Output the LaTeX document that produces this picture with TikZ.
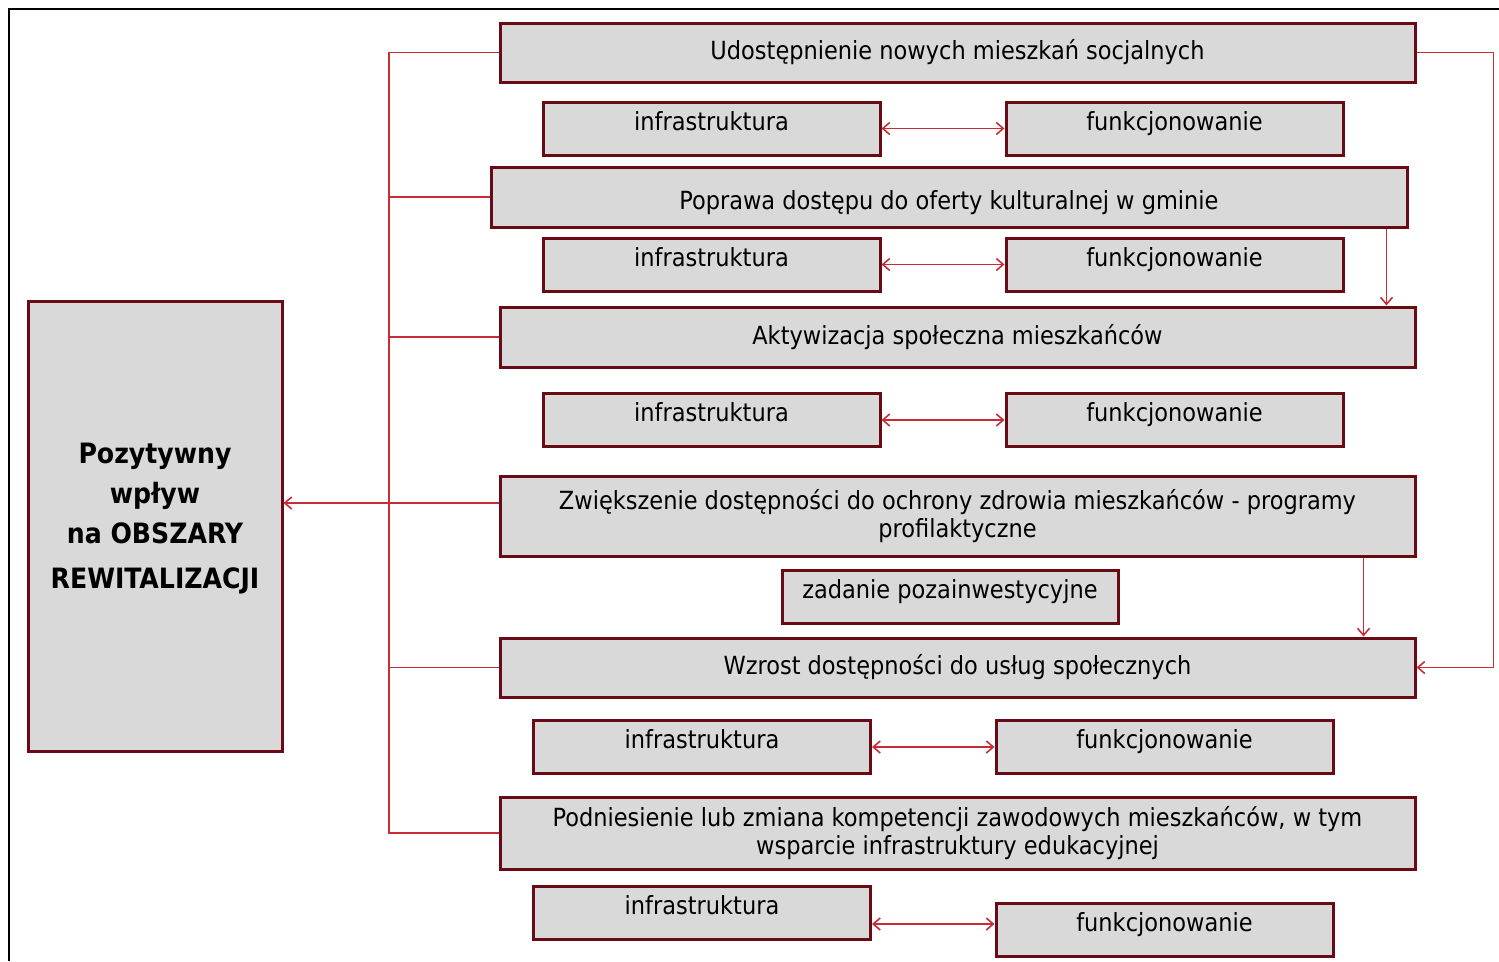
\documentclass[tikz,border=0pt]{standalone}
\usepackage{fontspec}
\setmainfont{DejaVu Sans Condensed}
\usetikzlibrary{arrows.meta}
\definecolor{szary}{RGB}{217,217,217}
\definecolor{bordo}{RGB}{105,10,20}
\definecolor{czerwien}{RGB}{200,45,55}
\begin{document}
\begin{tikzpicture}[
	x=1pt,y=-1pt,
	>={Straight Barb[length=7pt,width=12pt]}
]
\tikzset{
    celbox/.style = {rectangle, draw=bordo, line width=3pt, fill=szary, inner sep=0pt, align=center, font=\fontsize{25}{28}\selectfont},
    malybox/.style = {celbox, minimum width=337pt, minimum height=53pt, text height=28pt, text depth=25pt},
    linia/.style = {draw=czerwien, line width=1.6pt},
}
\useasboundingbox (0,0) rectangle (1499,961);
\draw[line width=2pt] (9,961) -- (9,9) -- (1499,9);

\node (wplyw) [celbox, minimum width=254pt, minimum height=450pt] at (155,526) {};
\node (wplyw napis) [align=center, font=\bfseries\fontsize{28}{40}\selectfont] at ([yshift=7pt]wplyw) {Pozytywny\\wpływ\\na OBSZARY\\[5pt]REWITALIZACJI};

\node (cel1) [celbox, minimum width=915pt, minimum height=59pt] at (957.5,52.5) {Udostępnienie nowych mieszkań socjalnych};
\node (inf1) [malybox] at (711.5,128.5) {infrastruktura};
\node (fun1) [malybox] at (1174.5,128.5) {funkcjonowanie};

\node (cel2) [celbox, minimum width=916pt, minimum height=60pt, text height=42pt, text depth=18pt] at (949,197) {Poprawa dostępu do oferty kulturalnej w gminie};
\node (inf2) [malybox] at (711.5,264.5) {infrastruktura};
\node (fun2) [malybox] at (1174.5,264.5) {funkcjonowanie};

\node (cel3) [celbox, minimum width=915pt, minimum height=60pt] at (957.5,337) {Aktywizacja społeczna mieszkańców};
\node (inf3) [malybox] at (711.5,420) {infrastruktura};
\node (fun3) [malybox] at (1174.5,420) {funkcjonowanie};

\node (cel4) [celbox, minimum width=915pt, minimum height=80pt] at (957.5,516) {Zwiększenie dostępności do ochrony zdrowia mieszkańców - programy\\profilaktyczne};
\node (zad) [malybox, minimum width=336pt] at (950,597) {zadanie pozainwestycyjne};

\node (cel5) [celbox, minimum width=915pt, minimum height=59pt] at (957.5,667.5) {Wzrost dostępności do usług społecznych};
\node (inf5) [malybox] at (702,747) {infrastruktura};
\node (fun5) [malybox] at (1164.5,747) {funkcjonowanie};

\node (cel6) [celbox, minimum width=915pt, minimum height=72pt] at (957.5,833) {Podniesienie lub zmiana kompetencji zawodowych mieszkańców, w tym\\wsparcie infrastruktury edukacyjnej};
\node (inf6) [malybox] at (702,913) {infrastruktura};
\node (fun6) [malybox] at (1164.5,930) {funkcjonowanie};

% szyna po lewej
\coordinate (szyna) at (389,0);
\draw[linia] (cel1.west) -| (szyna |- cel6.west) -- (cel6.west);
\draw[linia] (cel2.west) -- (szyna |- cel2.west);
\draw[linia] (cel3.west) -- (szyna |- cel3.west);
\draw[linia] (cel5.west) -- (szyna |- cel5.west);
\coordinate (p4) at ([yshift=13pt]cel4.west);
\draw[linia,->] (p4) -- (wplyw.east |- p4);

% strzalki w dol i petla po prawej
\coordinate (p2) at ([xshift=-22pt]cel2.south east);
\draw[linia,->] (p2) -- (p2 |- cel3.north);
\coordinate (p5) at ([xshift=-53pt]cel4.south east);
\draw[linia,->] (p5) -- (p5 |- cel5.north);
\draw[linia,->] (cel1.east) -- ++(77,0) |- (cel5.east);

% infrastruktura <-> funkcjonowanie
\draw[linia,<->] (inf1) -- (fun1);
\draw[linia,<->] (inf2) -- (fun2);
\draw[linia,<->] (inf3) -- (fun3);
\draw[linia,<->] (inf5) -- (fun5);
\coordinate (p6) at ([yshift=6pt]fun6.west);
\draw[linia,<->] (inf6.east |- p6) -- (p6);
\end{tikzpicture}
\end{document}
